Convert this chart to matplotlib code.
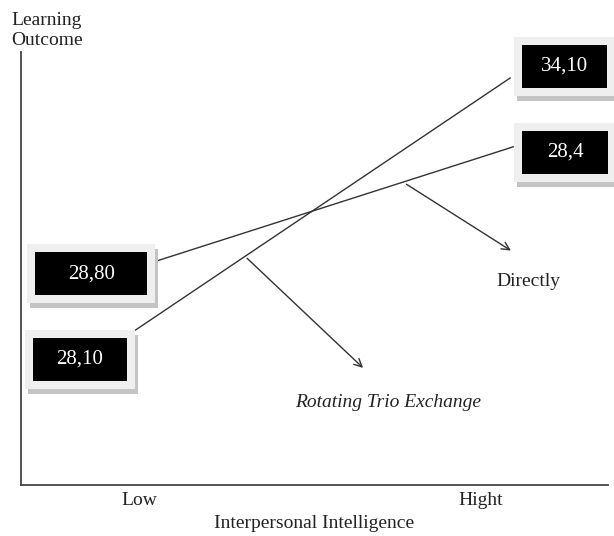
import matplotlib
matplotlib.use("Agg")
import matplotlib.pyplot as plt
from matplotlib.patches import Rectangle
from matplotlib.transforms import IdentityTransform

# ---- data (schematic interaction plot) ----
levels = ["Low", "Hight"]          # x categories, placed at 0 and 1
level_pos = [0, 1]

# line ends: (x start, x end) and (y start, y end) on a 0-100 outcome scale
rot_x = [-0.01, 1.085]
rot_y = [35.8, 94.0]
dir_x = [0.05, 1.094]
dir_y = [51.7, 78.1]

# value boxes: label, centre (x, y), box width in px
box_labels = ["28,80", "28,10", "34,10", "28,4"]
box_x = [-0.140, -0.173, 1.244, 1.246]
box_y = [48.8, 29.0, 96.7, 76.8]
box_w = [112, 94, 85, 86]

W, H = 614, 536
fig = plt.figure(figsize=(W / 100, H / 100), dpi=100)
plt.rcParams['font.family'] = ['Liberation Serif', 'DejaVu Serif']

# axes frame in pixels (left, top, right, bottom)
L, T, R, B = 21, 52, 608, 485
ax = fig.add_axes([L / W, 1 - B / H, (R - L) / W, (B - T) / H])
ax.set_xlim(-0.345, 1.371)
ax.set_ylim(0, 100)
for s in ["top", "right"]:
    ax.spines[s].set_visible(False)
for s in ["left", "bottom"]:
    ax.spines[s].set_color("#444444")
    ax.spines[s].set_linewidth(1.3)
ax.set_yticks([])
ax.set_xticks(level_pos, levels, fontsize=14, color="#222222")
ax.tick_params(axis="x", length=0, pad=5)
ax.set_xlabel("Interpersonal Intelligence", fontsize=14, color="#222222", labelpad=4)

fig.text(11 / W, 1 - 12 / H, "Learning\nOutcome", ha="left", va="top",
         fontsize=14, color="#222222", linespacing=1.2)

lc = "#333333"
ax.plot(rot_x, rot_y, color=lc, lw=1.0, clip_on=False)
ax.plot(dir_x, dir_y, color=lc, lw=1.0, clip_on=False)

# arrows pointing from the lines to their names
ax.annotate("", xy=(1.094, 53.8), xytext=(0.775, 69.8),
            arrowprops=dict(arrowstyle="->", color=lc, lw=1.0, mutation_scale=14))
ax.annotate("", xy=(0.661, 26.6), xytext=(0.31, 52.8),
            arrowprops=dict(arrowstyle="->", color=lc, lw=1.0, mutation_scale=14))
ax.text(1.137, 47.1, "Directly", ha="center", va="center", fontsize=14, color="#222222")
ax.text(0.728, 19.0, "Rotating Trio Exchange", ha="center", va="center",
        fontsize=14, style="italic", color="#222222")

# value boxes: grey shadow, light frame, black box with white number
fig.canvas.draw()
bh = 43
m = 8
for lab, bx, by, bw in zip(box_labels, box_x, box_y, box_w):
    cx, cy = ax.transData.transform((bx, by))
    fx, fy = cx - bw / 2 - m, cy - bh / 2 - m
    fw, fh = bw + 2 * m, bh + 2 * m
    fig.add_artist(Rectangle((fx + 3, fy - 5), fw, fh, facecolor="#c4c4c4",
                             edgecolor="none", transform=IdentityTransform(), zorder=2))
    fig.add_artist(Rectangle((fx, fy), fw, fh, facecolor="#efefef",
                             edgecolor="none", transform=IdentityTransform(), zorder=3))
    fig.add_artist(Rectangle((cx - bw / 2, cy - bh / 2), bw, bh, facecolor="black",
                             edgecolor="none", transform=IdentityTransform(), zorder=4))
    fig.text(cx, cy, lab, transform=IdentityTransform(), ha="center", va="center",
             fontsize=15, color="white", zorder=5)

fig.savefig("out.png", dpi=100)
